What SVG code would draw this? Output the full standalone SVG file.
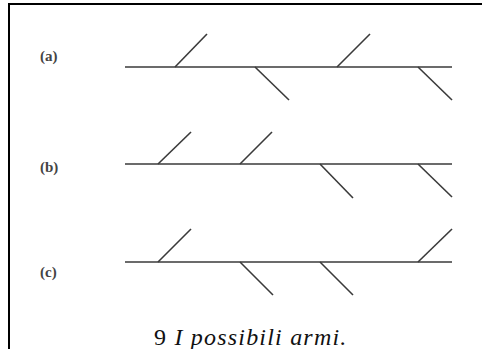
<svg xmlns="http://www.w3.org/2000/svg" width="482" height="349" viewBox="0 0 482 349">
<style>
.ln{stroke:#3a3a3a;stroke-width:1.6;fill:none;stroke-linecap:butt}
.lbl{font-size:15px;font-weight:bold;fill:#444}
.cap{font-size:24px;fill:#111;letter-spacing:1.2px}
</style>
<rect width="482" height="349" fill="#fff"/>
<path d="M9,349 V4 H482" stroke="#000" stroke-width="2" fill="none"/>
<g id="label-a"><text class="lbl" font-family="'Liberation Serif', 'DejaVu Serif', serif" x="40" y="61">(a)</text></g>
<g id="label-b"><text class="lbl" font-family="'Liberation Serif', 'DejaVu Serif', serif" x="40" y="172">(b)</text></g>
<g id="label-c"><text class="lbl" font-family="'Liberation Serif', 'DejaVu Serif', serif" x="40" y="277">(c)</text></g>
<g id="connectors">
<g id="row-a">
<line class="ln" x1="125" y1="67" x2="452" y2="67"/>
<line class="ln" x1="175" y1="67" x2="207" y2="34"/>
<line class="ln" x1="255" y1="67" x2="289" y2="100"/>
<line class="ln" x1="337" y1="67" x2="370" y2="34"/>
<line class="ln" x1="418" y1="67" x2="452" y2="100"/>
</g>
<g id="row-b">
<line class="ln" x1="125" y1="164" x2="452" y2="164"/>
<line class="ln" x1="158" y1="164" x2="191" y2="132"/>
<line class="ln" x1="240" y1="164" x2="272" y2="132"/>
<line class="ln" x1="320" y1="164" x2="353" y2="198"/>
<line class="ln" x1="418" y1="164" x2="452" y2="197"/>
</g>
<g id="row-c">
<line class="ln" x1="125" y1="262" x2="452" y2="262"/>
<line class="ln" x1="158" y1="262" x2="191" y2="229"/>
<line class="ln" x1="240" y1="262" x2="273" y2="295"/>
<line class="ln" x1="320" y1="262" x2="353" y2="295"/>
<line class="ln" x1="418" y1="262" x2="452" y2="229"/>
</g>
</g>
<g id="caption"><text class="cap" font-family="'Liberation Serif', 'DejaVu Serif', serif" x="154" y="345">9 <tspan font-style="italic">I possibili armi.</tspan></text></g>
</svg>
